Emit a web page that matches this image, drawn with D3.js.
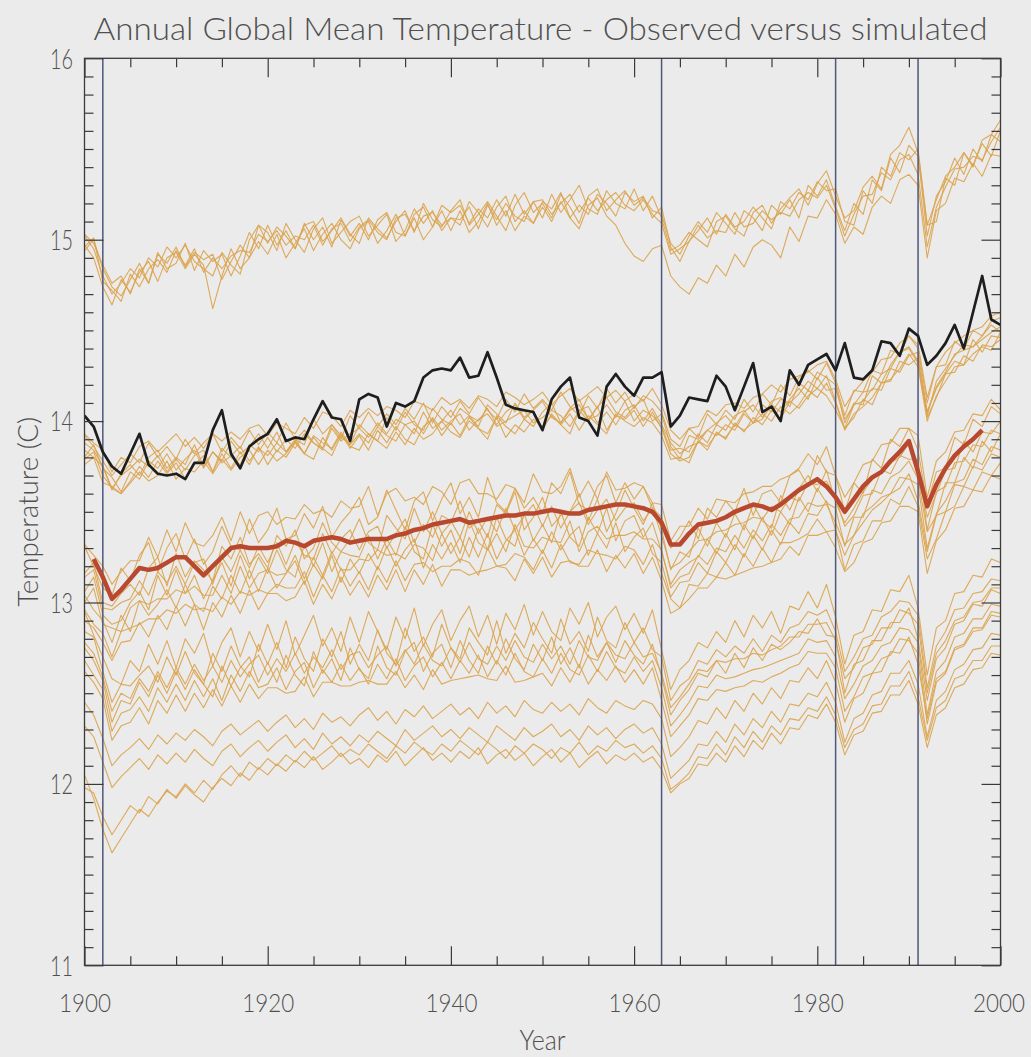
<!DOCTYPE html>
<html><head><meta charset="utf-8">
<script src="https://cdn.jsdelivr.net/npm/d3@7"></script>
<style>
html,body{margin:0;padding:0;background:#ebebeb;}
svg text{font-family:Lato,'DejaVu Sans',sans-serif;font-weight:300;fill:#505050;}
</style></head><body>
<svg id="chart" width="1031" height="1057"></svg>
<script>
// ---------------- DATA ----------------
const chartTitle = "Annual Global Mean Temperature - Observed versus simulated";
const xTitle = "Year";
const yTitle = "Temperature (C)";
const firstYear = 1900, lastYear = 2000, meanFirstYear = 1901;
const xMajorTicks = [1900, 1920, 1940, 1960, 1980, 2000];
const xTickLabels = ["1900", "1920", "1940", "1960", "1980", "2000"];
const yMajorTicks = [11, 12, 13, 14, 15, 16];
const yTickLabels = ["11", "12", "13", "14", "15", "16"];
const volcanoYears = [1902, 1963, 1982, 1991];

// observed (black), 1900-2000
const observed = [
14.03,13.97,13.83,13.75,13.71,13.82,13.93,13.76,13.71,13.70,
13.71,13.68,13.77,13.77,13.95,14.06,13.82,13.74,13.86,13.90,
13.93,14.01,13.89,13.91,13.90,14.01,14.11,14.02,14.01,13.89,
14.12,14.15,14.13,13.97,14.10,14.08,14.11,14.24,14.28,14.29,
14.28,14.35,14.24,14.25,14.38,14.24,14.09,14.07,14.06,14.05,
13.95,14.12,14.19,14.24,14.02,14.00,13.92,14.19,14.26,14.19,
14.14,14.24,14.24,14.27,13.97,14.03,14.13,14.12,14.11,14.25,
14.19,14.06,14.19,14.32,14.05,14.08,14.00,14.28,14.20,14.31,
14.34,14.37,14.28,14.43,14.24,14.23,14.28,14.44,14.43,14.36,
14.51,14.47,14.31,14.36,14.43,14.53,14.40,14.60,14.80,14.56,
14.53];

// ensemble mean (red), 1901-1998
const ensembleMean = [
13.24,13.14,13.02,13.07,13.13,13.19,13.18,13.19,13.22,13.25,
13.25,13.20,13.15,13.20,13.25,13.30,13.31,13.30,13.30,13.30,
13.31,13.34,13.33,13.31,13.34,13.35,13.36,13.35,13.33,13.34,
13.35,13.35,13.35,13.37,13.38,13.40,13.41,13.43,13.44,13.45,
13.46,13.44,13.45,13.46,13.47,13.48,13.48,13.49,13.49,13.50,
13.51,13.50,13.49,13.49,13.51,13.52,13.53,13.54,13.54,13.53,
13.52,13.50,13.44,13.32,13.32,13.38,13.43,13.44,13.45,13.47,
13.50,13.52,13.54,13.53,13.51,13.54,13.58,13.62,13.65,13.68,
13.64,13.58,13.50,13.57,13.64,13.69,13.72,13.78,13.83,13.89,
13.72,13.53,13.65,13.74,13.81,13.86,13.90,13.95];

// individual simulations (thin orange), 1900-2000
const a1 = [
15.02,14.95,14.80,14.70,14.76,14.84,14.79,14.90,14.85,14.96,
14.90,14.97,14.88,14.84,14.80,14.93,14.86,14.81,15.00,15.08,
14.98,15.07,15.02,14.95,15.08,15.10,14.99,15.05,15.12,15.03,
14.98,15.12,15.06,15.01,15.10,15.16,15.04,15.20,15.11,15.07,
15.16,15.22,15.08,15.14,15.21,15.13,15.05,15.19,15.26,15.15,
15.20,15.12,15.25,15.18,15.09,15.24,15.28,15.16,15.22,15.27,
15.19,15.23,15.16,15.14,14.98,14.92,15.02,15.10,15.04,15.15,
15.09,15.03,15.16,15.12,15.05,15.19,15.14,15.22,15.12,15.30,
15.24,15.33,15.18,15.05,15.20,15.14,15.33,15.27,15.45,15.37,
15.52,15.46,15.02,15.24,15.32,15.45,15.36,15.50,15.43,15.58,
15.54];
const a2 = [
14.94,15.00,14.84,14.74,14.69,14.78,14.87,14.76,14.92,14.87,
14.96,14.85,14.93,14.89,14.92,14.78,14.88,14.97,14.90,15.08,
15.04,14.94,15.09,15.00,14.93,15.06,15.12,14.98,15.04,15.10,
15.13,15.02,15.08,15.14,14.99,15.05,15.17,15.09,15.16,15.05,
15.12,15.08,15.21,15.15,15.07,15.18,15.24,15.10,15.16,15.09,
15.21,15.17,15.26,15.12,15.19,15.14,15.25,15.20,15.13,15.26,
15.21,15.24,15.12,15.18,14.96,14.88,14.99,15.05,15.12,15.03,
15.14,15.07,15.10,15.18,15.12,15.06,15.21,15.17,15.26,15.22,
15.32,15.27,15.28,15.10,15.08,15.27,15.20,15.40,15.35,15.48,
15.44,15.50,15.08,15.10,15.34,15.30,15.48,15.41,15.53,15.46,
15.60];
const a3 = [
14.97,14.90,14.74,14.64,14.78,14.71,14.82,14.88,14.77,14.90,
14.93,14.84,14.92,14.86,14.62,14.80,14.95,14.84,14.90,14.99,
14.92,15.03,14.90,14.98,15.06,14.94,15.03,15.09,15.00,14.95,
15.06,15.10,14.98,15.05,15.14,15.02,15.12,15.00,15.07,15.16,
15.05,15.16,15.04,15.10,15.20,15.08,15.16,15.05,15.13,15.09,
15.18,15.10,15.21,15.12,15.06,15.19,15.23,15.13,15.08,14.98,
14.91,14.88,14.95,14.97,14.80,14.74,14.70,14.79,14.76,14.86,
14.80,14.92,14.85,14.96,15.00,14.97,14.90,15.07,14.99,15.13,
15.12,15.22,15.14,14.98,15.07,15.03,15.18,15.24,15.20,15.33,
15.36,15.30,14.90,15.16,15.20,15.34,15.32,15.42,15.35,15.47,
15.46];
const a4 = [
15.03,14.98,14.86,14.76,14.80,14.70,14.84,14.76,14.93,14.84,
14.87,14.98,14.83,14.94,14.88,14.92,14.80,14.91,15.04,14.95,
15.08,14.97,15.05,14.95,15.09,15.00,15.07,14.96,15.11,15.02,
15.09,15.00,15.11,15.15,15.04,15.02,15.14,15.18,15.07,15.19,
15.15,15.19,15.09,15.17,15.12,15.22,15.13,15.25,15.14,15.21,
15.12,15.25,15.15,15.22,15.30,15.17,15.14,15.27,15.20,15.17,
15.28,15.16,15.24,15.12,14.94,14.97,15.04,15.00,14.96,15.10,
15.13,15.06,15.02,15.15,15.19,15.09,15.17,15.23,15.28,15.19,
15.31,15.38,15.24,15.12,15.16,15.29,15.35,15.28,15.47,15.52,
15.62,15.48,15.08,15.22,15.35,15.40,15.48,15.40,15.55,15.58,
15.66];
const a5 = [
14.96,15.01,14.77,14.72,14.66,14.81,14.74,14.84,14.89,14.82,
14.94,14.86,14.95,14.82,14.90,14.84,14.91,14.94,14.93,15.03,
14.99,15.05,14.97,15.02,15.00,15.08,14.97,15.06,15.09,14.99,
15.07,15.11,15.04,15.00,15.12,15.14,15.05,15.13,15.15,15.08,
15.12,15.11,15.18,15.06,15.19,15.11,15.20,15.13,15.10,15.21,
15.22,15.14,15.20,15.25,15.15,15.23,15.16,15.22,15.26,15.19,
15.16,15.22,15.14,15.09,14.92,14.95,14.99,15.08,15.01,15.05,
15.04,15.15,15.07,15.09,15.16,15.11,15.15,15.13,15.22,15.26,
15.23,15.30,15.17,15.02,15.14,15.24,15.25,15.37,15.33,15.44,
15.47,15.36,14.96,15.18,15.29,15.39,15.40,15.46,15.44,15.54,
15.62];
const b1 = [
13.92,13.86,13.78,13.70,13.76,13.82,13.77,13.88,13.80,13.86,
13.79,13.90,13.82,13.88,13.93,13.83,13.91,13.85,13.95,13.87,
13.94,13.88,13.99,13.90,13.87,14.01,13.93,13.98,13.90,14.03,
13.96,14.05,13.97,14.04,13.98,14.07,14.01,14.10,13.99,14.08,
14.02,14.11,14.04,14.13,14.06,14.01,14.12,14.05,14.15,14.07,
14.12,14.06,14.16,14.08,14.03,14.14,14.07,14.18,14.10,14.16,
14.07,14.14,14.11,14.05,13.90,13.86,13.96,13.91,14.04,13.98,
14.06,14.01,14.12,14.05,14.15,14.09,14.20,14.14,14.24,14.28,
14.23,14.32,14.21,14.03,14.17,14.16,14.28,14.26,14.39,14.37,
14.47,14.40,14.10,14.30,14.31,14.44,14.40,14.50,14.47,14.55,
14.57];
const b2 = [
13.79,13.83,13.70,13.63,13.60,13.67,13.75,13.69,13.78,13.71,
13.77,13.68,13.76,13.81,13.72,13.82,13.74,13.83,13.76,13.86,
13.76,13.84,13.80,13.88,13.82,13.79,13.91,13.84,13.93,13.85,
13.92,13.84,13.95,13.88,13.97,13.90,13.87,13.97,14.01,13.92,
13.99,13.92,14.02,13.96,13.90,14.03,13.97,13.93,14.01,14.06,
13.95,14.04,13.98,13.93,14.06,14.00,14.08,13.95,14.03,14.01,
14.06,13.97,14.05,13.96,13.82,13.78,13.80,13.89,13.84,13.94,
13.90,13.99,13.94,14.02,13.98,14.06,14.01,14.11,14.07,14.14,
14.18,14.14,14.06,13.96,14.02,14.12,14.09,14.21,14.22,14.33,
14.31,14.35,14.02,14.13,14.26,14.27,14.36,14.33,14.42,14.41,
14.45];
const b3 = [
13.88,13.84,13.75,13.62,13.71,13.76,13.70,13.80,13.84,13.74,
13.80,13.76,13.87,13.75,13.83,13.78,13.89,13.82,13.86,13.93,
13.85,13.94,13.83,13.89,13.95,13.88,13.85,13.98,13.92,13.87,
13.98,13.93,13.89,14.02,13.95,14.05,13.98,13.95,14.07,14.01,
13.98,14.07,14.03,13.97,14.09,14.04,13.99,14.10,14.02,14.06,
14.11,14.02,13.99,14.07,14.12,14.01,14.08,14.13,14.05,14.02,
14.08,14.12,14.00,14.04,13.86,13.79,13.92,13.90,13.95,13.99,
14.03,13.97,14.05,14.09,14.02,14.11,14.13,14.08,14.21,14.17,
14.27,14.24,14.20,13.99,14.10,14.09,14.25,14.21,14.31,14.38,
14.40,14.32,14.03,14.22,14.29,14.36,14.42,14.41,14.47,14.53,
14.49];
const b4 = [
13.76,13.80,13.66,13.64,13.60,13.66,13.72,13.67,13.70,13.78,
13.68,13.74,13.72,13.78,13.71,13.79,13.73,13.80,13.84,13.76,
13.84,13.78,13.82,13.89,13.82,13.91,13.85,13.81,13.92,13.86,
13.84,13.93,13.89,13.85,13.94,13.87,13.96,13.90,13.93,14.00,
13.94,13.91,14.00,13.96,13.93,14.02,13.91,13.98,13.94,14.01,
13.97,14.03,13.98,14.04,13.95,14.03,13.98,13.93,14.04,14.00,
13.97,14.02,13.99,13.92,13.79,13.80,13.77,13.89,13.86,13.93,
13.91,13.98,13.95,13.99,14.04,14.00,14.08,14.04,14.09,14.17,
14.13,14.21,14.10,13.95,14.04,14.08,14.13,14.21,14.23,14.29,
14.37,14.30,14.00,14.14,14.22,14.30,14.31,14.37,14.41,14.39,
14.49];
const b5 = [
13.93,13.88,13.84,13.72,13.80,13.77,13.86,13.89,13.83,13.88,
13.93,13.86,13.91,13.85,13.93,13.89,13.94,13.90,13.96,13.98,
13.92,13.99,13.96,13.93,14.02,13.96,14.05,14.03,13.97,14.06,
14.02,14.07,14.03,14.08,14.06,14.02,14.11,14.09,14.06,14.13,
14.09,14.12,14.07,14.14,14.12,14.08,14.16,14.13,14.09,14.12,
14.16,14.09,14.14,14.18,14.11,14.15,14.19,14.13,14.17,14.11,
14.15,14.11,14.18,14.09,13.95,13.90,13.96,13.97,14.06,14.03,
14.09,14.10,14.07,14.13,14.15,14.20,14.16,14.23,14.25,14.27,
14.31,14.33,14.23,14.08,14.16,14.22,14.27,14.34,14.35,14.43,
14.47,14.42,14.13,14.30,14.38,14.43,14.47,14.50,14.52,14.58,
14.60];
const b6 = [
13.84,13.80,13.75,13.63,13.70,13.74,13.79,13.75,13.81,13.72,
13.79,13.73,13.81,13.84,13.72,13.85,13.80,13.76,13.87,13.83,
13.91,13.83,13.90,13.85,13.93,13.88,13.84,13.96,13.89,13.93,
13.96,13.91,13.99,13.93,14.01,13.98,13.93,14.05,13.96,14.00,
14.06,13.98,14.03,14.00,14.07,13.98,14.05,14.09,14.01,13.97,
14.05,14.10,13.99,14.06,14.09,14.01,14.03,14.09,14.02,14.11,
14.00,14.06,14.03,13.97,13.84,13.85,13.83,13.93,13.88,13.98,
13.95,14.03,14.06,13.99,14.09,14.05,14.12,14.10,14.15,14.22,
14.18,14.25,14.11,13.96,14.09,14.16,14.17,14.26,14.29,14.38,
14.41,14.33,14.05,14.19,14.27,14.37,14.39,14.41,14.45,14.49,
14.52];
const b7 = [
13.80,13.87,13.74,13.69,13.61,13.72,13.68,13.78,13.74,13.82,
13.73,13.79,13.84,13.74,13.83,13.77,13.81,13.86,13.78,13.85,
13.81,13.88,13.83,13.90,13.82,13.92,13.88,13.85,13.94,13.87,
13.93,13.88,13.97,13.92,13.89,13.98,14.00,13.93,14.02,13.95,
14.00,14.04,13.95,14.01,14.04,13.97,14.00,14.03,14.06,13.99,
14.02,14.06,14.03,13.97,14.06,14.08,13.99,14.05,13.98,14.06,
14.09,14.00,14.07,13.98,13.88,13.82,13.86,13.88,13.95,13.92,
13.98,13.95,14.04,13.99,14.01,14.09,14.05,14.12,14.18,14.12,
14.24,14.17,14.18,14.01,14.09,14.11,14.18,14.17,14.29,14.27,
14.36,14.38,14.05,14.18,14.26,14.33,14.31,14.45,14.38,14.47,
14.46];
const c1 = [
13.31,13.20,13.08,13.04,13.19,13.12,13.26,13.33,13.17,13.30,
13.38,13.24,13.35,13.21,13.28,13.42,13.31,13.29,13.46,13.33,
13.40,13.52,13.35,13.37,13.49,13.41,13.53,13.36,13.44,13.50,
13.58,13.43,13.47,13.62,13.51,13.40,13.56,13.61,13.45,13.57,
13.66,13.49,13.58,13.47,13.69,13.55,13.50,13.63,13.52,13.58,
13.49,13.66,13.60,13.72,13.54,13.51,13.64,13.70,13.55,13.66,
13.57,13.64,13.52,13.47,13.30,13.36,13.45,13.35,13.52,13.47,
13.56,13.50,13.63,13.48,13.60,13.62,13.55,13.70,13.73,13.64,
13.81,13.72,13.70,13.50,13.66,13.60,13.79,13.74,13.90,13.86,
13.96,13.84,13.54,13.72,13.74,13.91,13.87,14.01,13.97,14.08,
14.04];
const c2 = [
13.16,13.22,13.00,12.98,13.05,13.10,13.04,13.19,13.25,13.09,
13.27,13.14,13.23,13.18,13.12,13.31,13.24,13.36,13.21,13.27,
13.19,13.37,13.31,13.40,13.24,13.30,13.44,13.33,13.28,13.35,
13.46,13.33,13.29,13.48,13.41,13.35,13.52,13.39,13.50,13.38,
13.44,13.56,13.41,13.45,13.36,13.54,13.49,13.61,13.40,13.47,
13.58,13.42,13.48,13.50,13.60,13.45,13.57,13.39,13.49,13.62,
13.52,13.43,13.55,13.40,13.18,13.28,13.25,13.41,13.31,13.44,
13.36,13.49,13.40,13.54,13.45,13.41,13.59,13.51,13.63,13.70,
13.61,13.73,13.55,13.44,13.52,13.61,13.68,13.71,13.77,13.80,
13.88,13.72,13.47,13.60,13.73,13.74,13.89,13.83,13.94,13.93,
14.00];
const c3 = [
13.06,13.14,12.93,12.88,12.90,13.00,13.06,12.96,13.15,13.04,
13.18,13.05,13.15,13.02,13.12,13.22,13.09,13.26,13.13,13.25,
13.16,13.29,13.18,13.14,13.32,13.20,13.33,13.17,13.28,13.26,
13.25,13.37,13.24,13.35,13.26,13.42,13.28,13.24,13.43,13.31,
13.40,13.27,13.45,13.33,13.29,13.47,13.35,13.31,13.49,13.34,
13.43,13.33,13.50,13.36,13.31,13.47,13.38,13.52,13.34,13.45,
13.48,13.36,13.44,13.28,13.10,13.18,13.22,13.25,13.35,13.27,
13.38,13.29,13.43,13.35,13.47,13.37,13.50,13.43,13.58,13.50,
13.63,13.55,13.52,13.31,13.47,13.47,13.62,13.60,13.69,13.72,
13.78,13.68,13.39,13.48,13.66,13.66,13.80,13.74,13.89,13.83,
13.93];
const c4 = [
13.04,12.96,12.90,12.78,12.93,12.84,13.01,12.93,12.99,13.07,
12.97,13.10,12.99,12.95,13.09,13.02,13.15,13.05,13.18,13.06,
13.19,13.08,13.16,13.23,13.10,13.21,13.13,13.26,13.11,13.24,
13.16,13.27,13.18,13.31,13.20,13.29,13.35,13.19,13.32,13.24,
13.33,13.22,13.36,13.25,13.38,13.24,13.34,13.40,13.26,13.35,
13.27,13.39,13.29,13.37,13.42,13.26,13.38,13.30,13.44,13.28,
13.36,13.41,13.27,13.22,13.03,13.11,13.12,13.22,13.16,13.28,
13.22,13.32,13.25,13.37,13.29,13.40,13.32,13.44,13.38,13.49,
13.48,13.56,13.40,13.26,13.37,13.44,13.51,13.55,13.60,13.63,
13.71,13.56,13.28,13.48,13.50,13.65,13.64,13.75,13.73,13.82,
13.80];
const c5 = [
12.96,12.88,12.83,12.70,12.84,12.86,12.88,12.91,12.91,12.96,
12.94,12.99,12.96,12.97,12.95,13.03,12.99,13.06,13.04,13.07,
13.05,13.10,13.08,13.08,13.17,13.03,13.15,13.06,13.19,13.09,
13.17,13.07,13.20,13.11,13.23,13.12,13.21,13.22,13.17,13.20,
13.20,13.24,13.22,13.15,13.30,13.20,13.21,13.27,13.25,13.18,
13.29,13.19,13.32,13.22,13.21,13.29,13.27,13.26,13.24,13.31,
13.29,13.21,13.32,13.16,13.02,12.97,13.10,13.09,13.16,13.14,
13.22,13.15,13.27,13.20,13.30,13.22,13.33,13.33,13.35,13.38,
13.46,13.39,13.40,13.18,13.32,13.34,13.45,13.45,13.57,13.54,
13.64,13.53,13.24,13.35,13.50,13.53,13.64,13.62,13.72,13.70,
13.77];
const c6 = [
13.32,13.26,13.20,13.10,13.17,13.23,13.23,13.36,13.25,13.40,
13.28,13.44,13.33,13.31,13.37,13.47,13.34,13.50,13.38,13.48,
13.50,13.43,13.47,13.46,13.54,13.49,13.51,13.47,13.56,13.52,
13.53,13.64,13.48,13.60,13.63,13.56,13.58,13.54,13.64,13.61,
13.54,13.66,13.68,13.60,13.60,13.57,13.65,13.63,13.55,13.71,
13.61,13.60,13.64,13.74,13.58,13.67,13.57,13.72,13.62,13.63,
13.66,13.64,13.55,13.54,13.34,13.42,13.42,13.52,13.46,13.57,
13.56,13.55,13.60,13.61,13.64,13.64,13.68,13.70,13.74,13.82,
13.76,13.86,13.70,13.58,13.66,13.76,13.78,13.87,13.88,13.96,
13.96,13.92,13.58,13.78,13.83,13.94,13.95,14.04,14.03,14.12,
14.06];
const c7 = [
13.00,13.08,12.88,12.86,12.84,12.97,13.01,12.99,13.02,13.02,
13.07,13.05,13.09,13.04,13.04,13.15,13.05,13.20,13.08,13.16,
13.18,13.15,13.16,13.26,13.13,13.25,13.15,13.28,13.18,13.18,
13.24,13.23,13.29,13.26,13.27,13.24,13.32,13.30,13.23,13.38,
13.27,13.36,13.25,13.41,13.29,13.38,13.28,13.43,13.31,13.30,
13.36,13.34,13.33,13.45,13.28,13.39,13.42,13.35,13.37,13.37,
13.39,13.35,13.35,13.29,13.08,13.14,13.16,13.26,13.21,13.30,
13.28,13.37,13.30,13.40,13.34,13.43,13.37,13.46,13.47,13.55,
13.53,13.54,13.44,13.32,13.37,13.49,13.53,13.58,13.60,13.69,
13.68,13.65,13.30,13.49,13.56,13.66,13.68,13.79,13.76,13.86,
13.84];
const c8 = [
13.14,13.18,12.97,12.96,13.00,13.02,13.12,13.04,13.17,13.11,
13.20,13.10,13.22,13.24,13.10,13.25,13.17,13.29,13.19,13.31,
13.22,13.33,13.21,13.34,13.26,13.24,13.38,13.27,13.35,13.40,
13.29,13.39,13.42,13.30,13.38,13.46,13.33,13.43,13.36,13.48,
13.45,13.36,13.50,13.38,13.47,13.39,13.52,13.40,13.48,13.54,
13.42,13.53,13.41,13.50,13.55,13.43,13.51,13.57,13.45,13.52,
13.55,13.45,13.52,13.37,13.19,13.22,13.28,13.34,13.35,13.39,
13.40,13.43,13.44,13.47,13.46,13.53,13.50,13.58,13.56,13.66,
13.65,13.67,13.58,13.42,13.48,13.59,13.60,13.73,13.71,13.81,
13.79,13.79,13.40,13.61,13.64,13.77,13.78,13.87,13.86,13.95,
13.93];
const c9 = [
12.90,12.86,12.78,12.68,12.78,12.79,12.89,12.81,12.93,12.85,
12.98,12.87,12.99,12.85,13.00,12.92,13.04,12.94,13.07,12.96,
13.05,13.05,13.01,13.03,13.12,12.99,13.10,13.02,13.14,13.04,
13.12,13.03,13.15,13.07,13.18,13.06,13.18,13.10,13.21,13.09,
13.18,13.18,13.15,13.17,13.18,13.20,13.19,13.12,13.24,13.16,
13.25,13.14,13.22,13.23,13.20,13.20,13.29,13.17,13.26,13.19,
13.27,13.16,13.25,13.12,12.94,12.97,13.02,13.08,13.08,13.14,
13.13,13.15,13.17,13.19,13.20,13.22,13.24,13.31,13.26,13.37,
13.37,13.39,13.30,13.17,13.22,13.33,13.35,13.44,13.45,13.53,
13.53,13.50,13.16,13.34,13.40,13.52,13.53,13.62,13.61,13.70,
13.68];
const k1 = [
12.95,12.82,12.70,12.58,12.55,12.68,12.62,12.77,12.66,12.79,
12.64,12.80,12.72,12.83,12.65,12.78,12.86,12.70,12.84,12.73,
12.88,12.74,12.90,12.71,12.82,12.93,12.76,12.86,12.73,12.92,
12.78,12.95,12.84,12.74,12.92,12.80,12.97,12.76,12.88,12.96,
12.79,12.90,12.98,12.81,12.93,12.77,12.94,12.85,12.99,12.82,
12.95,12.84,12.79,12.97,12.88,13.00,12.81,12.92,12.98,12.85,
12.94,12.83,12.96,12.74,12.52,12.63,12.68,12.78,12.75,12.84,
12.78,12.90,12.81,12.93,12.86,12.95,12.83,12.98,12.96,13.06,
12.97,13.10,12.92,12.66,12.82,12.84,12.96,12.95,13.07,13.06,
13.15,12.97,12.60,12.86,12.90,13.05,13.06,13.15,13.14,13.24,
13.22];
const k2 = [
12.84,12.81,12.62,12.45,12.55,12.54,12.60,12.65,12.56,12.70,
12.60,12.73,12.61,12.55,12.72,12.62,12.76,12.65,12.59,12.77,
12.66,12.78,12.64,12.81,12.69,12.62,12.80,12.70,12.84,12.66,
12.77,12.68,12.85,12.72,12.66,12.86,12.73,12.81,12.70,12.88,
12.75,12.69,12.86,12.78,12.71,12.90,12.72,12.83,12.75,12.89,
12.80,12.72,12.91,12.77,12.84,12.73,12.92,12.79,12.75,12.89,
12.78,12.86,12.74,12.70,12.46,12.54,12.58,12.68,12.66,12.74,
12.70,12.76,12.72,12.80,12.73,12.82,12.78,12.86,12.88,12.95,
12.93,12.96,12.84,12.62,12.70,12.80,12.82,12.92,12.95,13.01,
13.00,12.93,12.53,12.76,12.84,12.96,12.97,13.05,13.06,13.13,
13.12];
const k3 = [
12.75,12.68,12.57,12.34,12.46,12.44,12.56,12.48,12.60,12.50,
12.62,12.52,12.63,12.55,12.48,12.65,12.54,12.64,12.70,12.56,
12.67,12.56,12.71,12.60,12.54,12.73,12.61,12.69,12.57,12.75,
12.63,12.58,12.76,12.64,12.60,12.73,12.78,12.62,12.72,12.77,
12.64,12.79,12.68,12.61,12.76,12.66,12.80,12.69,12.63,12.77,
12.68,12.81,12.66,12.75,12.64,12.82,12.70,12.78,12.67,12.79,
12.71,12.66,12.77,12.59,12.38,12.46,12.52,12.61,12.59,12.68,
12.61,12.72,12.64,12.75,12.68,12.77,12.74,12.78,12.84,12.83,
12.91,12.82,12.81,12.50,12.66,12.68,12.79,12.79,12.89,12.89,
12.97,12.80,12.46,12.69,12.75,12.88,12.90,12.99,12.98,13.07,
13.05];
const k4 = [
12.68,12.60,12.52,12.29,12.39,12.41,12.48,12.40,12.53,12.45,
12.55,12.46,12.57,12.48,12.58,12.46,12.60,12.51,12.62,12.53,
12.55,12.64,12.52,12.62,12.67,12.53,12.63,12.56,12.66,12.57,
12.64,12.55,12.66,12.58,12.69,12.57,12.65,12.70,12.59,12.67,
12.58,12.68,12.61,12.71,12.59,12.68,12.60,12.72,12.62,12.59,
12.69,12.61,12.72,12.63,12.60,12.71,12.62,12.73,12.64,12.61,
12.70,12.62,12.68,12.53,12.32,12.38,12.45,12.54,12.53,12.60,
12.58,12.59,12.61,12.63,12.64,12.66,12.68,12.70,12.72,12.80,
12.78,12.79,12.70,12.47,12.55,12.65,12.68,12.76,12.78,12.86,
12.85,12.78,12.38,12.62,12.68,12.81,12.83,12.91,12.91,12.99,
12.98];
const k5 = [
12.78,12.72,12.59,12.40,12.50,12.47,12.58,12.51,12.62,12.53,
12.64,12.55,12.66,12.57,12.65,12.56,12.68,12.59,12.66,12.71,
12.60,12.69,12.62,12.72,12.61,12.70,12.64,12.74,12.63,12.71,
12.73,12.64,12.71,12.76,12.65,12.74,12.66,12.77,12.68,12.65,
12.75,12.67,12.78,12.69,12.66,12.76,12.68,12.79,12.70,12.67,
12.77,12.69,12.76,12.66,12.79,12.70,12.68,12.78,12.71,12.69,
12.78,12.70,12.72,12.61,12.42,12.48,12.55,12.63,12.62,12.68,
12.67,12.69,12.69,12.72,12.71,12.74,12.76,12.81,12.81,12.88,
12.88,12.89,12.79,12.58,12.64,12.75,12.77,12.86,12.86,12.96,
12.94,12.88,12.50,12.72,12.79,12.90,12.92,13.00,13.01,13.08,
13.08];
const k6 = [
12.62,12.56,12.47,12.24,12.32,12.34,12.42,12.33,12.46,12.39,
12.49,12.40,12.50,12.42,12.52,12.43,12.54,12.45,12.55,12.47,
12.53,12.53,12.50,12.51,12.59,12.48,12.56,12.56,12.54,12.54,
12.56,12.57,12.55,12.55,12.62,12.53,12.60,12.52,12.63,12.55,
12.57,12.58,12.59,12.60,12.58,12.57,12.65,12.56,12.57,12.59,
12.61,12.54,12.64,12.56,12.66,12.55,12.63,12.57,12.65,12.56,
12.63,12.55,12.64,12.46,12.26,12.32,12.38,12.47,12.46,12.52,
12.51,12.53,12.54,12.57,12.56,12.59,12.61,12.64,12.66,12.73,
12.72,12.72,12.64,12.40,12.48,12.59,12.61,12.69,12.71,12.80,
12.79,12.72,12.33,12.56,12.61,12.74,12.76,12.84,12.85,12.93,
12.92];
const e1 = [
12.45,12.38,12.25,12.10,12.16,12.20,12.25,12.19,12.27,12.22,
12.28,12.24,12.30,12.26,12.21,12.29,12.33,12.27,12.31,12.35,
12.29,12.34,12.38,12.31,12.36,12.30,12.39,12.34,12.37,12.32,
12.38,12.42,12.35,12.40,12.33,12.41,12.37,12.43,12.36,12.40,
12.44,12.38,12.42,12.36,12.45,12.39,12.43,12.37,12.46,12.41,
12.39,12.45,12.40,12.44,12.38,12.47,12.42,12.39,12.46,12.43,
12.41,12.46,12.44,12.36,12.15,12.20,12.26,12.35,12.33,12.42,
12.36,12.46,12.40,12.50,12.44,12.53,12.47,12.57,12.56,12.64,
12.58,12.68,12.56,12.34,12.47,12.50,12.61,12.62,12.73,12.72,
12.81,12.66,12.36,12.58,12.62,12.75,12.77,12.86,12.86,12.95,
12.94];
const e2 = [
12.32,12.26,12.12,11.98,12.04,12.09,12.14,12.08,12.16,12.11,
12.17,12.12,12.19,12.14,12.10,12.18,12.22,12.15,12.20,12.24,
12.18,12.23,12.27,12.20,12.25,12.19,12.28,12.22,12.26,12.21,
12.27,12.23,12.29,12.25,12.21,12.30,12.24,12.28,12.32,12.26,
12.30,12.25,12.31,12.27,12.23,12.32,12.28,12.24,12.31,12.26,
12.29,12.33,12.26,12.30,12.24,12.32,12.27,12.31,12.25,12.30,
12.33,12.28,12.31,12.22,12.03,12.08,12.13,12.22,12.21,12.29,
12.23,12.33,12.27,12.36,12.31,12.40,12.34,12.44,12.43,12.50,
12.48,12.56,12.45,12.23,12.36,12.39,12.49,12.51,12.61,12.61,
12.68,12.55,12.26,12.46,12.51,12.63,12.66,12.74,12.75,12.83,
12.82];
const f1 = [
12.05,11.92,11.75,11.62,11.70,11.78,11.86,11.82,11.90,11.96,
11.93,12.00,11.95,12.02,11.97,12.05,12.10,12.04,12.12,12.08,
12.14,12.10,12.16,12.12,12.18,12.13,12.17,12.21,12.15,12.19,
12.16,12.22,12.18,12.14,12.21,12.17,12.23,12.19,12.16,12.22,
12.18,12.24,12.20,12.16,12.23,12.19,12.14,12.21,12.17,12.22,
12.19,12.14,12.20,12.17,12.23,12.16,12.21,12.18,12.24,12.20,
12.22,12.17,12.21,12.14,11.97,12.01,12.06,12.15,12.14,12.22,
12.16,12.26,12.20,12.29,12.23,12.32,12.27,12.36,12.35,12.42,
12.40,12.48,12.38,12.20,12.30,12.33,12.43,12.44,12.54,12.54,
12.62,12.48,12.24,12.42,12.46,12.58,12.60,12.68,12.68,12.76,
12.76];
const f2 = [
11.98,11.95,11.82,11.72,11.80,11.88,11.84,11.93,11.89,11.97,
11.92,11.99,11.94,11.90,11.98,12.03,11.99,12.06,12.02,12.09,
12.05,12.11,12.07,12.13,12.09,12.15,12.08,12.12,12.17,12.11,
12.14,12.09,12.16,12.12,12.18,12.10,12.15,12.20,12.13,12.17,
12.12,12.18,12.14,12.20,12.11,12.16,12.19,12.13,12.17,12.10,
12.15,12.19,12.12,12.17,12.09,12.14,12.18,12.11,12.16,12.13,
12.17,12.12,12.15,12.08,11.95,12.00,12.03,12.11,12.10,12.17,
12.12,12.21,12.15,12.24,12.19,12.28,12.22,12.31,12.30,12.38,
12.36,12.44,12.34,12.16,12.27,12.29,12.39,12.40,12.49,12.49,
12.57,12.44,12.20,12.38,12.42,12.53,12.55,12.63,12.64,12.72,
12.71];
const members = [a1,a2,a3,a4,a5,b1,b2,b3,b4,b5,b6,b7,c1,c2,c3,c4,c5,c6,c7,c8,c9,k1,k2,k3,k4,k5,k6,e1,e2,f1,f2];

// ---------------- DRAWING ----------------
const W = 1031, H = 1057;
const pL = 84.5, pR = 1000.5, pT = 58.3, pB = 965.3;
const x = d3.scaleLinear().domain([firstYear, lastYear]).range([pL, pR]);
const y = d3.scaleLinear().domain([11, 16]).range([pB, pT]);

const svg = d3.select('#chart');
svg.append('rect').attr('width', W).attr('height', H).attr('fill', '#ebebeb');
svg.append('defs').append('clipPath').attr('id', 'clip')
  .append('rect').attr('x', pL).attr('y', pT).attr('width', pR - pL).attr('height', pB - pT);

const plot = svg.append('g').attr('clip-path', 'url(#clip)');
const lineFrom = start => d3.line().x((d, i) => x(start + i)).y(d => y(d));

plot.selectAll('path.member').data(members).join('path')
  .attr('class', 'member')
  .attr('d', lineFrom(firstYear))
  .attr('fill', 'none').attr('stroke', '#dba44e').attr('stroke-width', 1.1)
  .attr('stroke-linejoin', 'round').attr('opacity', 0.92);

plot.selectAll('line.volcano').data(volcanoYears).join('line')
  .attr('class', 'volcano')
  .attr('x1', d => x(d)).attr('x2', d => x(d))
  .attr('y1', pT).attr('y2', pB)
  .attr('stroke', '#4f587c').attr('stroke-width', 1.5);

plot.append('path').datum(ensembleMean)
  .attr('d', lineFrom(meanFirstYear))
  .attr('fill', 'none').attr('stroke', '#b8482e').attr('stroke-width', 4.5)
  .attr('stroke-linejoin', 'round');

plot.append('path').datum(observed)
  .attr('d', lineFrom(firstYear))
  .attr('fill', 'none').attr('stroke', '#1e1e1e').attr('stroke-width', 2.7)
  .attr('stroke-linejoin', 'round');

// axes
const axisColor = '#3a3a3a';
function clean(g) {
  g.select('.domain').remove();
  g.selectAll('line').attr('stroke', axisColor).attr('stroke-width', 1.2);
}
const minorX = d3.range(firstYear, lastYear + 1, 5).filter(v => !xMajorTicks.includes(v));
const minorY = d3.range(111, 160).filter(v => v % 10 !== 0).map(v => v / 10);

// bottom
svg.append('g').attr('transform', `translate(0,${pB})`)
  .call(d3.axisBottom(x).tickValues(minorX).tickSize(-9).tickFormat('')).call(clean);
const gx = svg.append('g').attr('transform', `translate(0,${pB})`)
  .call(d3.axisBottom(x).tickValues(xMajorTicks).tickSize(-19).tickFormat((d, i) => xTickLabels[i])).call(clean);
gx.selectAll('text').attr('y', 46.7).attr('dy', 0).style('font-size', '25px')
  .attr('textLength', 52).attr('lengthAdjust', 'spacingAndGlyphs');
gx.selectAll('.tick').filter(d => d === lastYear).select('text').attr('x', -2);
// top
svg.append('g').attr('transform', `translate(0,${pT})`)
  .call(d3.axisTop(x).tickValues(minorX).tickSize(-9).tickFormat('')).call(clean);
svg.append('g').attr('transform', `translate(0,${pT})`)
  .call(d3.axisTop(x).tickValues(xMajorTicks).tickSize(-19).tickFormat('')).call(clean);
// left
svg.append('g').attr('transform', `translate(${pL},0)`)
  .call(d3.axisLeft(y).tickValues(minorY).tickSize(-9).tickFormat('')).call(clean);
const gy = svg.append('g').attr('transform', `translate(${pL},0)`)
  .call(d3.axisLeft(y).tickValues(yMajorTicks).tickSize(-19).tickFormat((d, i) => yTickLabels[i])).call(clean);
gy.selectAll('text').attr('x', 73 - pL).attr('dy', '0.36em').style('font-size', '27px')
  .attr('text-anchor', 'end').attr('textLength', 23).attr('lengthAdjust', 'spacingAndGlyphs');
// right
svg.append('g').attr('transform', `translate(${pR},0)`)
  .call(d3.axisRight(y).tickValues(minorY).tickSize(-9).tickFormat('')).call(clean);
svg.append('g').attr('transform', `translate(${pR},0)`)
  .call(d3.axisRight(y).tickValues(yMajorTicks).tickSize(-19).tickFormat('')).call(clean);

// frame
svg.append('rect').attr('x', pL).attr('y', pT).attr('width', pR - pL).attr('height', pB - pT)
  .attr('fill', 'none').attr('stroke', axisColor).attr('stroke-width', 1.3);

// titles
svg.append('text').attr('x', 540.5).attr('y', 40).attr('text-anchor', 'middle')
  .style('font-size', '32px').attr('textLength', 894).attr('lengthAdjust', 'spacingAndGlyphs')
  .text(chartTitle);
svg.append('text').attr('x', (pL + pR) / 2).attr('y', 1050).attr('text-anchor', 'middle')
  .style('font-size', '27px').attr('textLength', 46).attr('lengthAdjust', 'spacingAndGlyphs')
  .text(xTitle);
svg.append('text').attr('transform', `translate(38,${(pT + pB) / 2}) rotate(-90)`)
  .attr('text-anchor', 'middle')
  .style('font-size', '27px').attr('textLength', 190).attr('lengthAdjust', 'spacingAndGlyphs')
  .text(yTitle);
</script>
</body></html>
